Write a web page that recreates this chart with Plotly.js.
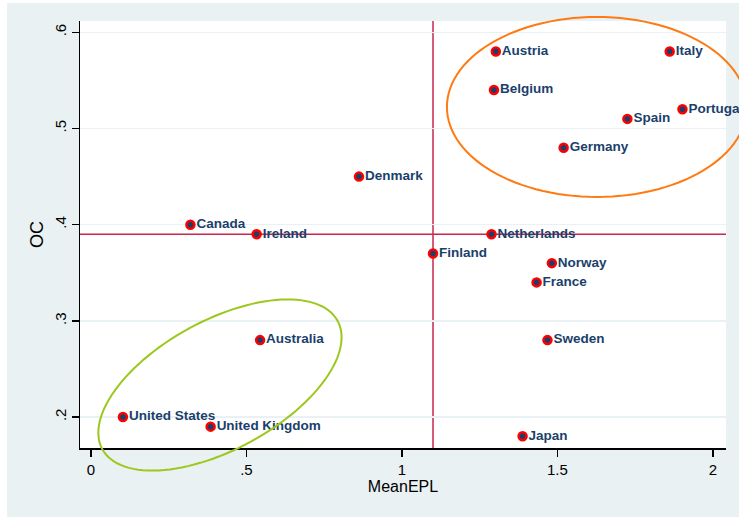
<!DOCTYPE html>
<html>
<head>
<meta charset="utf-8">
<script src="https://cdn.plot.ly/plotly-3.0.1.min.js"></script>
<style>
  html, body { margin: 0; padding: 0; background: #ffffff; }
  #chart { position: absolute; left: 7px; top: 3px; width: 732px; height: 514px; }
</style>
</head>
<body>
<div id="chart"></div>
<script>
// ---- data ----
const countries = ["Canada", "Ireland", "Denmark", "Finland", "Netherlands", "Austria", "Belgium",
  "Italy", "Portugal", "Spain", "Germany", "Norway", "France", "Sweden", "Japan",
  "Australia", "United States", "United Kingdom"];
const meanEPL = [0.32, 0.533, 0.862, 1.10, 1.288, 1.302, 1.296,
  1.861, 1.902, 1.725, 1.52, 1.482, 1.433, 1.468, 1.388,
  0.544, 0.103, 0.385];
const oc = [0.40, 0.39, 0.45, 0.37, 0.39, 0.58, 0.54,
  0.58, 0.52, 0.51, 0.48, 0.36, 0.34, 0.28, 0.18,
  0.28, 0.20, 0.19];
const refEPL = 1.10;
const refOC = 0.39;
const xTickVals = [0, 0.5, 1, 1.5, 2];
const xTickText = ["0", ".5", "1", "1.5", "2"];
const yTickVals = [0.2, 0.3, 0.4, 0.5, 0.6];
const yTickText = [".2", ".3", ".4", ".5", ".6"];

// ---- layout constants ----
const xRange = [-0.035, 2.042];
const yRange = [0.1678, 0.6118];
const plotW = 646, plotH = 427;

function ellipsePath(cxData, cyData, aPx, bPx, angDeg) {
  const cx = (cxData - xRange[0]) / (xRange[1] - xRange[0]);
  const cy = (cyData - yRange[0]) / (yRange[1] - yRange[0]);
  const th = angDeg * Math.PI / 180;
  let d = "";
  const n = 120;
  for (let i = 0; i <= n; i++) {
    const t = 2 * Math.PI * i / n;
    const ex = aPx * Math.cos(t), ey = bPx * Math.sin(t);
    const rx = ex * Math.cos(th) - ey * Math.sin(th);
    const ry = ex * Math.sin(th) + ey * Math.cos(th);
    const px = cx + rx / plotW, py = cy + ry / plotH;
    d += (i === 0 ? "M" : "L") + px.toFixed(5) + "," + py.toFixed(5);
  }
  return d + "Z";
}

const trace = {
  type: "scatter",
  mode: "markers+text",
  x: meanEPL,
  y: oc,
  text: countries,
  textposition: "middle right",
  textfont: { family: "Liberation Sans, Arial, sans-serif", size: 13.5, color: "#1b3f6b", weight: "bold" },
  marker: { size: 8, color: "#1b3f6b", line: { color: "#ff0000", width: 2.5 } },
  cliponaxis: false,
  hoverinfo: "none"
};

const layout = {
  width: 732, height: 514,
  margin: { l: 73, r: 13, t: 18, b: 69 },
  paper_bgcolor: "#e9f1f3",
  plot_bgcolor: "#ffffff",
  showlegend: false,
  font: { family: "Liberation Sans, Arial, sans-serif", color: "#000000" },
  xaxis: {
    range: xRange, tickvals: xTickVals, ticktext: xTickText,
    showgrid: false, zeroline: false, showline: true, linecolor: "#000000", linewidth: 1.5,
    ticks: "outside", ticklen: 7, tickcolor: "#000000", tickwidth: 1.5,
    tickfont: { size: 15, color: "#000000" },
    title: { text: "MeanEPL", font: { size: 16, color: "#000000" }, standoff: 4 }
  },
  yaxis: {
    range: yRange, tickvals: yTickVals, ticktext: yTickText, tickangle: -90,
    showgrid: true, gridcolor: "#eaf1f4", gridwidth: 1.5,
    zeroline: false, showline: true, linecolor: "#000000", linewidth: 1.5,
    ticks: "outside", ticklen: 7, tickcolor: "#000000", tickwidth: 1.5,
    tickfont: { size: 15, color: "#000000" },
    title: { text: "OC", font: { size: 18, color: "#000000" }, standoff: 3 }
  },
  shapes: [
    { type: "line", xref: "x", yref: "paper", x0: refEPL, x1: refEPL, y0: 0, y1: 1,
      line: { color: "#c8264f", width: 1.5 }, layer: "below" },
    { type: "line", xref: "paper", yref: "y", x0: 0, x1: 1, y0: refOC, y1: refOC,
      line: { color: "#c8264f", width: 1.5 }, layer: "below" },
    { type: "path", xref: "paper", yref: "paper", path: ellipsePath(1.627, 0.5224, 150, 90, 0),
      line: { color: "#ff7a12", width: 2 } },
    { type: "path", xref: "paper", yref: "paper", path: ellipsePath(0.415, 0.2333, 134, 64.5, 28.6),
      line: { color: "#9cc81e", width: 2 } }
  ]
};

Plotly.newPlot("chart", [trace], layout, { displayModeBar: false, staticPlot: true });
</script>
</body>
</html>
